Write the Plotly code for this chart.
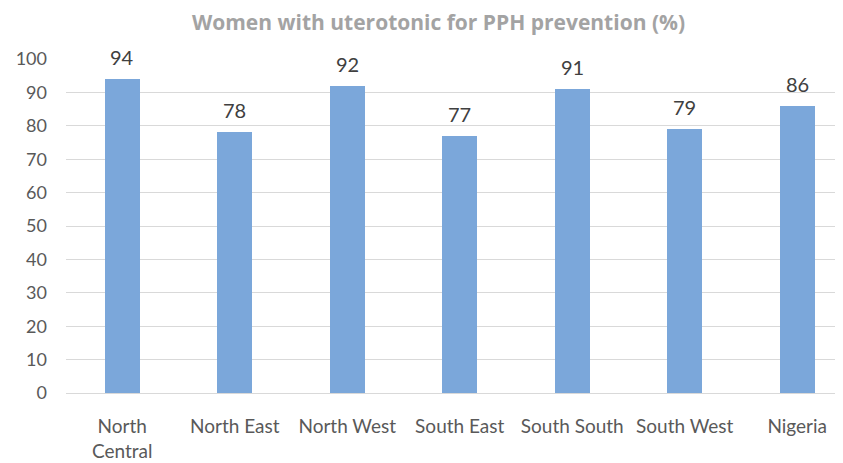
import plotly.graph_objects as go

regions = ["North<br>Central", "North East", "North West", "South East", "South South", "South West", "Nigeria"]
values = [94, 78, 92, 77, 91, 79, 86]
title_text = "Women with uterotonic for PPH prevention (%)"
y_ticks = [0, 10, 20, 30, 40, 50, 60, 70, 80, 90, 100]

xs = list(range(len(regions)))

fig = go.Figure()
fig.add_trace(go.Bar(
    x=xs,
    y=values,
    width=0.31,
    marker=dict(color="#7BA7DA", line=dict(width=0)),
))

for x, v in zip(xs, values):
    fig.add_annotation(
        x=x, y=v, text=str(v), showarrow=False,
        xanchor="center", yanchor="middle", yshift=22,
        font=dict(family="Lato", size=20, color="#404040"),
    )

W, H = 835, 455
fig.update_layout(
    width=W, height=H,
    margin=dict(l=58, r=0, t=51, b=70, autoexpand=False),
    paper_bgcolor="white", plot_bgcolor="white",
    showlegend=False,
    title=dict(text=title_text, x=430.5 / W, xanchor="center", y=1 - 15 / H, yanchor="middle",
               font=dict(family="Open Sans", size=21, color="#A3A3A3", weight="bold")),
    bargap=0,
)
fig.update_xaxes(
    tickmode="array", tickvals=xs, ticktext=regions,
    range=[-0.5, 6.407], showgrid=False, zeroline=False, showline=False,
    ticks="", ticklabelstandoff=20, automargin=False,
    tickfont=dict(family="Lato", size=19, color="#595959"),
)
fig.update_yaxes(
    range=[0, 100], tickmode="array", tickvals=y_ticks,
    showgrid=True, gridcolor="#D9D9D9", gridwidth=1,
    zeroline=True, zerolinecolor="#D9D9D9", zerolinewidth=1,
    showline=False, ticks="", ticklabelstandoff=18, automargin=False,
    tickfont=dict(family="Lato", size=18, color="#595959"),
)

fig.write_html("out.html")
